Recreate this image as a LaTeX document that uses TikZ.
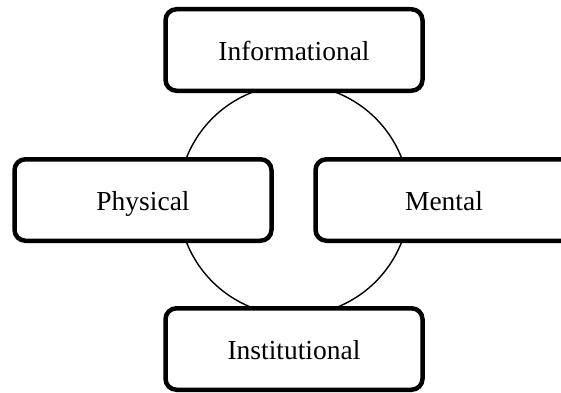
\documentclass[tikz,border=0pt]{standalone}
\usepackage{fontspec}
\setmainfont{Liberation Serif}
\begin{document}
\begin{tikzpicture}[x=1pt,y=1pt,
  dimbox/.style={draw=black, fill=white, line width=4.5pt, rounded corners=11pt,
    minimum width=257pt, minimum height=81.5pt, inner sep=0pt,
    text height=21pt, text depth=0pt,
    font=\fontsize{27.5}{30}\selectfont},
  ring/.style={draw=black, line width=1.4pt, circle, minimum size=231pt, inner sep=0pt}]
\useasboundingbox (0,0) rectangle (561,392);
\node[ring] (ring) at (294,192) {};
\node[dimbox] (info) at (294,342) {Informational};
\node[dimbox] (phys) at (143,192) {Physical};
\node[dimbox] (ment) at (444,192) {Mental};
\node[dimbox] (inst) at (294,43) {Institutional};
\end{tikzpicture}
\end{document}
